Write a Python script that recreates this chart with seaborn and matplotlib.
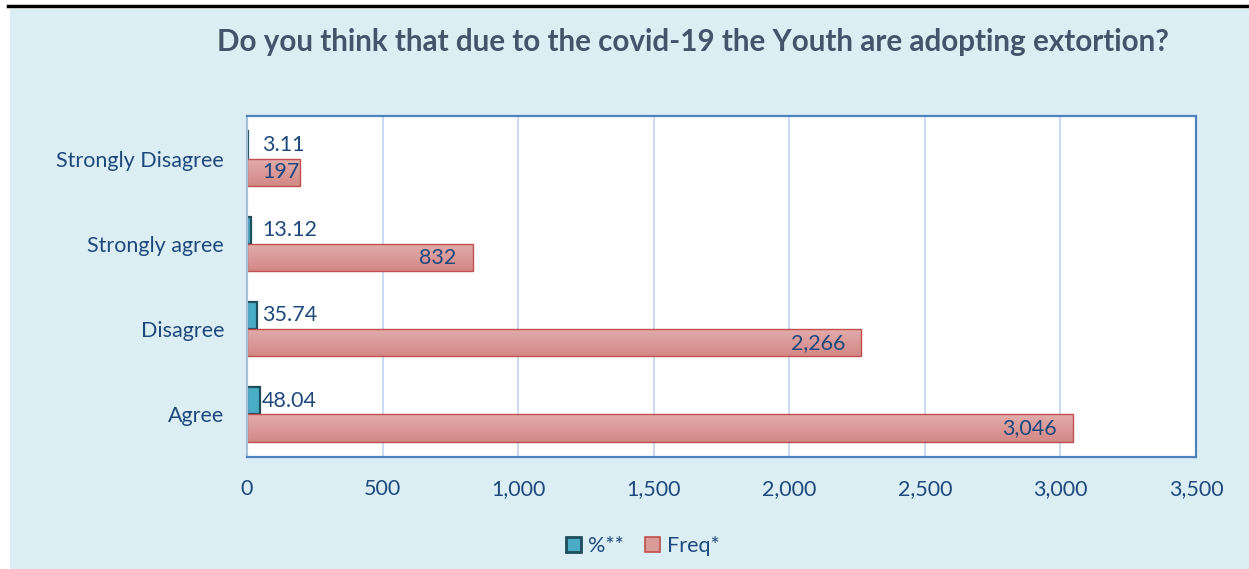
import seaborn as sns
import matplotlib.pyplot as plt
import numpy as np
import pandas as pd
from matplotlib.patches import Rectangle
from matplotlib.lines import Line2D
from matplotlib.colors import LinearSegmentedColormap

# Data
categories = ["Strongly Disagree", "Strongly agree", "Disagree", "Agree"]
pct = [3.11, 13.12, 35.74, 48.04]
freq = [197, 832, 2266, 3046]
series_names = ["%**", "Freq*"]
x_ticks = [0, 500, 1000, 1500, 2000, 2500, 3000, 3500]

df = pd.DataFrame({
    "Response": categories * 2,
    "Series": [series_names[0]] * 4 + [series_names[1]] * 4,
    "Value": pct + freq,
})

bg = "#DAEEF3"
txt = "#1F497D"
teal, teal_edge = "#4BACC6", "#1E4D5C"
red, red_edge = "#DA9A98", "#C0504D"
fs = 15.5

plt.rcParams["font.family"] = ["Lato", "DejaVu Sans"]

fig = plt.figure(figsize=(12.49, 5.69), dpi=100)
fig.patch.set_facecolor("white")
# light-blue panel and black rule at the top
fig.add_artist(Rectangle((10 / 1249, 0), 1 - 10 / 1249, 1 - 9 / 569,
                         transform=fig.transFigure, facecolor=bg, edgecolor="none", zorder=-10))
fig.add_artist(Line2D([8 / 1249, 1], [1 - 6 / 569, 1 - 6 / 569], transform=fig.transFigure,
                      color="black", linewidth=2.5))

ax = fig.add_axes([247 / 1249, 1 - 457 / 569, (1196 - 247) / 1249, (457 - 116) / 569])
ax.set_facecolor("white")

sns.barplot(data=df, y="Response", x="Value", hue="Series", orient="h",
            order=categories, hue_order=series_names, saturation=1,
            palette=[teal, red], width=0.64, gap=0, ax=ax, legend=False)

ax.set_xlim(0, 3500)
ylim = ax.get_ylim()

# edges, and a soft vertical gradient on the Freq bars
grad = LinearSegmentedColormap.from_list("g", ["#E2ADAC", "#D28886"])
for p in ax.containers[0]:
    p.set_edgecolor(teal_edge)
    p.set_linewidth(1.6)
for p in ax.containers[1]:
    p.set_edgecolor(red_edge)
    p.set_linewidth(1.0)
    x0, y0, w, h = p.get_x(), p.get_y(), p.get_width(), p.get_height()
    im = ax.imshow(np.linspace(0, 1, 50).reshape(-1, 1), cmap=grad, aspect="auto",
                   extent=(x0, x0 + w, y0 + h, y0), origin="upper", zorder=p.get_zorder())
    im.set_clip_path(p)
    p.set_facecolor("none")
    p.set_zorder(p.get_zorder() + 0.1)
ax.set_xlim(0, 3500)
ax.set_ylim(ylim)

ax.set_xticks(x_ticks)
ax.set_xticklabels([f"{v:,}" for v in x_ticks])
ax.set_xlabel("")
ax.set_ylabel("")
ax.tick_params(axis="both", length=0, labelsize=fs, labelcolor=txt)
ax.tick_params(axis="x", pad=16)
ax.tick_params(axis="y", pad=16.5)
ax.grid(axis="x", color="#C6D9F1", linewidth=1.3)
ax.set_axisbelow(True)
for s in ax.spines.values():
    s.set_color("#4F81BD")
    s.set_linewidth(1.6)
ax.spines["left"].set_color("#A6BFDA")

# value labels
px_per_unit = ax.bbox.width / 3500
for p, v in zip(ax.containers[0], pct):
    y = p.get_y() + p.get_height() / 2
    off = max(15, v * px_per_unit + 2)
    ax.annotate(f"{v:.2f}", xy=(0, y), xytext=(off, 0), textcoords="offset pixels",
                ha="left", va="center", fontsize=fs, color=txt, zorder=5)
for p, v in zip(ax.containers[1], freq):
    y = p.get_y() + p.get_height() / 2
    if v * px_per_unit < 70:
        ax.annotate(f"{v:,}", xy=(0, y), xytext=(15, 0), textcoords="offset pixels",
                    ha="left", va="center", fontsize=fs, color=txt, zorder=5)
    else:
        ax.annotate(f"{v:,}", xy=(v, y), xytext=(-16, 0), textcoords="offset pixels",
                    ha="right", va="center", fontsize=fs, color=txt, zorder=5)

fig.text(693 / 1249, 1 - 42 / 569,
         "Do you think that due to the covid-19 the Youth are adopting extortion?",
         ha="center", va="center", fontsize=21.3, fontweight="bold", color="#44546A")

handles = [Rectangle((0, 0), 1, 1, facecolor=teal, edgecolor=teal_edge, linewidth=2),
           Rectangle((0, 0), 1, 1, facecolor=red, edgecolor=red_edge, linewidth=1.2)]
fig.legend(handles, series_names, loc="center", bbox_to_anchor=(643 / 1249, 1 - 546 / 569),
           ncol=2, frameon=False, fontsize=fs, labelcolor=txt,
           handlelength=0.7, handleheight=0.7, handletextpad=0.3, columnspacing=1.0)

fig.savefig("out.png", dpi=100, facecolor=fig.get_facecolor())
